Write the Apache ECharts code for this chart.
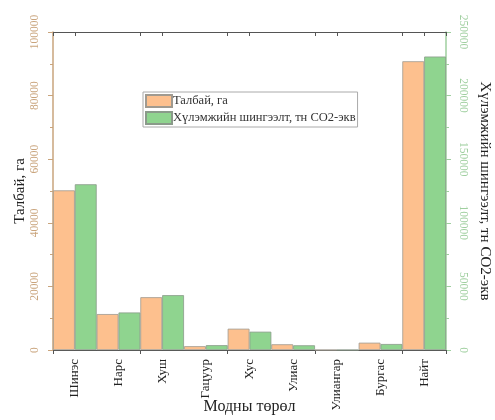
<!DOCTYPE html>
<html>
<head>
<meta charset="utf-8">
<script src="https://cdn.jsdelivr.net/npm/echarts@6/dist/echarts.min.js"></script>
<style>
  html, body { margin: 0; padding: 0; background: #fff; }
  #chart { width: 495px; height: 420px; }
</style>
</head>
<body>
<div id="chart"></div>
<script>
// Модны төрөл
const categories = ['Шинэс', 'Нарс', 'Хуш', 'Гацуур', 'Хус', 'Улиас', 'Улиангар', 'Бургас', 'Найт']
// Талбай, га
const areaValues = [50200, 11300, 16600, 1200, 6700, 1800, 0, 2300, 90800]
// Хүлэмжийн шингээлт, тн CO2-экв
const absorbValues = [130300, 29500, 43100, 3800, 14400, 3700, 0, 4700, 230700]

const fontFamily = '"Liberation Serif", "DejaVu Serif", serif'
const tanColor = '#c9a47c'
const greenAxisColor = '#9fcf9f'
const frameColor = '#555'

const chart = echarts.init(document.getElementById('chart'))

// хүрээний нэмэлт тэнхлэг (тэмдэглэгээгүй)
function frameAxis(position, alignWithLabel, showLine) {
  return {
    type: 'category',
    data: categories,
    position: position,
    axisLine: { show: showLine, lineStyle: { color: frameColor, width: 1.2 } },
    axisTick: { show: true, alignWithLabel: alignWithLabel, inside: position === 'top', length: 4, lineStyle: { color: frameColor } },
    axisLabel: { show: false },
    splitLine: { show: false }
  }
}

chart.setOption({
  animation: false,
  textStyle: { fontFamily: fontFamily },
  grid: { left: 53, right: 49, top: 32, bottom: 70, containLabel: false, outerBoundsMode: 'none' },
  legend: {
    left: 143,
    top: 92,
    orient: 'vertical',
    icon: 'rect',
    itemWidth: 26,
    itemHeight: 12,
    itemGap: 3,
    padding: [2, 2, 2, 2],
    borderColor: '#aaa',
    borderWidth: 1,
    textStyle: { fontFamily: fontFamily, fontSize: 12.5, color: '#333', padding: [0, 0, 0, -4] },
    data: ['Талбай, га', 'Хүлэмжийн шингээлт, тн CO2-экв']
  },
  xAxis: [
    {
      type: 'category',
      data: categories,
      position: 'bottom',
      name: 'Модны төрөл',
      nameLocation: 'middle',
      nameGap: 49,
      nameMoveOverlap: false,
      nameTextStyle: { fontFamily: fontFamily, fontSize: 16, color: '#222' },
      axisLine: { lineStyle: { color: frameColor, width: 1.2 } },
      axisTick: { alignWithLabel: true, length: 5, lineStyle: { color: frameColor } },
      axisLabel: { rotate: 90, fontFamily: fontFamily, fontSize: 13, color: '#222', margin: 9, interval: 0 }
    },
    frameAxis('bottom', false, false),
    frameAxis('top', false, true),
    frameAxis('top', true, false)
  ],
  yAxis: [
    {
      type: 'value',
      position: 'left',
      min: 0,
      max: 100000,
      interval: 20000,
      name: 'Талбай, га',
      nameLocation: 'middle',
      nameGap: 25,
      nameMoveOverlap: false,
      nameTextStyle: { fontFamily: fontFamily, fontSize: 15, color: '#222' },
      axisLine: { show: true, lineStyle: { color: tanColor, width: 1.5 } },
      axisTick: { show: true, length: 5, lineStyle: { color: tanColor } },
      minorTick: { show: true, splitNumber: 2, length: 3, lineStyle: { color: tanColor } },
      axisLabel: { rotate: 90, fontFamily: fontFamily, fontSize: 11.5, color: tanColor, margin: 12, formatter: v => String(v) },
      splitLine: { show: false }
    },
    {
      type: 'value',
      position: 'right',
      min: 0,
      max: 250000,
      interval: 50000,
      name: 'Хүлэмжийн шингээлт, тн CO2-экв',
      nameLocation: 'middle',
      nameGap: 31,
      nameRotate: -90,
      nameMoveOverlap: false,
      nameTextStyle: { fontFamily: fontFamily, fontSize: 15, color: '#222' },
      axisLine: { show: true, lineStyle: { color: greenAxisColor, width: 1.5 } },
      axisTick: { show: true, length: 5, lineStyle: { color: greenAxisColor } },
      minorTick: { show: true, splitNumber: 2, length: 3, lineStyle: { color: greenAxisColor } },
      axisLabel: { rotate: -90, fontFamily: fontFamily, fontSize: 11.5, color: greenAxisColor, margin: 11, formatter: v => String(v) },
      splitLine: { show: false }
    }
  ],
  series: [
    {
      name: 'Талбай, га',
      type: 'bar',
      xAxisIndex: 0,
      yAxisIndex: 0,
      data: areaValues,
      barGap: '0%',
      barCategoryGap: '0%',
      itemStyle: { color: '#fdc08e', borderColor: '#a09a90', borderWidth: 0.8 }
    },
    {
      name: 'Хүлэмжийн шингээлт, тн CO2-экв',
      type: 'bar',
      xAxisIndex: 0,
      yAxisIndex: 1,
      data: absorbValues,
      barGap: '0%',
      barCategoryGap: '0%',
      itemStyle: { color: '#8fd48f', borderColor: '#8a9a8a', borderWidth: 0.8 }
    }
  ]
})
</script>
</body>
</html>
